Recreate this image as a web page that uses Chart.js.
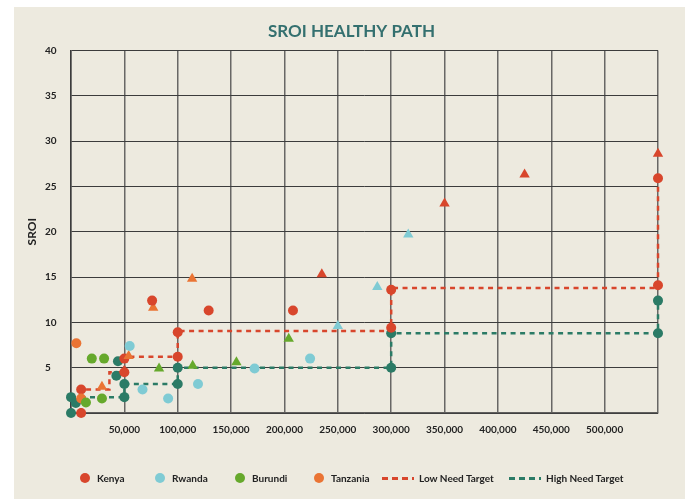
<!DOCTYPE html>
<html>
<head>
<meta charset="utf-8">
<script src="https://cdn.jsdelivr.net/npm/chart.js@4.4.1/dist/chart.umd.min.js"></script>
<style>
  html, body { margin: 0; padding: 0; background: #fff; }
  #panel { position: absolute; left: 14px; top: 7px; width: 671px; height: 492px; background: #edeadf; }
  #wrap { position: absolute; left: 0; top: 0; width: 685px; height: 499px; }
  #legend { position: absolute; left: 0; top: 471px; width: 685px; height: 14px; font: bold 10px Lato, sans-serif; color: #222; }
  .item { position: absolute; top: 0; display: flex; align-items: center; height: 14px; white-space: nowrap; }
  .dot { width: 10px; height: 10px; border-radius: 50%; margin-right: 7px; }
  .dash { width: 32px; height: 3px; margin-right: 5px; }
</style>
</head>
<body>
<div id="panel"></div>
<div id="wrap"><canvas id="sroi" width="685" height="499"></canvas></div>
<div id="legend"></div>
<script>
// tick labels
const xTicks = [50000, 100000, 150000, 200000, 250000, 300000, 350000, 400000, 450000, 500000];
const yTicks = [5, 10, 15, 20, 25, 30, 35, 40];

// country results (circles and triangles)
const kenyaCircles = [{x: 76000, y: 12.4}, {x: 129000, y: 11.3}, {x: 208000, y: 11.3}];
const kenyaTriangles = [{x: 235000, y: 15.3}, {x: 350000, y: 23.1}, {x: 425000, y: 26.3}, {x: 550000, y: 28.6}];
const rwandaCircles = [{x: 55000, y: 7.4}, {x: 67000, y: 2.6}, {x: 91000, y: 1.6}, {x: 119000, y: 3.2}, {x: 172000, y: 4.9}, {x: 224000, y: 6.0}];
const rwandaTriangles = [{x: 250000, y: 9.6}, {x: 287000, y: 13.9}, {x: 316000, y: 19.7}];
const burundiCircles = [{x: 19500, y: 6.0}, {x: 31000, y: 6.0}, {x: 14000, y: 1.15}, {x: 29000, y: 1.6}];
const burundiTriangles = [{x: 82500, y: 4.9}, {x: 114000, y: 5.2}, {x: 155000, y: 5.6}, {x: 204000, y: 8.2}];
const tanzaniaCircles = [{x: 5000, y: 7.7}, {x: 9500, y: 1.6}];
const tanzaniaTriangles = [{x: 29000, y: 2.9}, {x: 54000, y: 6.3}, {x: 77000, y: 11.6}, {x: 113500, y: 14.8}];

// targets
const lowNeedPath = [{x: 9500, y: 0}, {x: 9500, y: 2.6}, {x: 36000, y: 2.6}, {x: 36000, y: 4.5}, {x: 50000, y: 4.5},
  {x: 50000, y: 6.2}, {x: 100000, y: 6.2}, {x: 100000, y: 9.05}, {x: 300000, y: 9.05}, {x: 300000, y: 13.8},
  {x: 550000, y: 13.8}, {x: 550000, y: 25.9}];
const lowNeedDots = [{x: 9500, y: 0}, {x: 9500, y: 2.6}, {x: 50000, y: 4.5}, {x: 50000, y: 6.0}, {x: 100000, y: 6.2},
  {x: 100000, y: 8.9}, {x: 300000, y: 9.4}, {x: 300000, y: 13.6}, {x: 550000, y: 14.1}, {x: 550000, y: 25.9}];
const highNeedPath = [{x: 0, y: 1.75}, {x: 50000, y: 1.75}, {x: 50000, y: 3.2}, {x: 100000, y: 3.2}, {x: 100000, y: 5.0},
  {x: 300000, y: 5.0}, {x: 300000, y: 8.8}, {x: 550000, y: 8.8}, {x: 550000, y: 12.4}];
const highNeedDots = [{x: 0, y: 0}, {x: 0, y: 1.75}, {x: 4500, y: 1.1}, {x: 42500, y: 4.1}, {x: 44000, y: 5.7},
  {x: 50000, y: 1.75}, {x: 50000, y: 3.2}, {x: 100000, y: 3.2}, {x: 100000, y: 5.0}, {x: 300000, y: 5.0},
  {x: 300000, y: 8.8}, {x: 550000, y: 8.8}, {x: 550000, y: 12.4}];

const RED = '#d8462c', CYAN = '#7fcbd4', GREEN = '#66a92c', ORANGE = '#ea7434', TEAL = '#2b7b66';
const FONT = 'Lato, sans-serif';

function marks(label, data, color, style, order) {
  return {
    label: label, data: data, backgroundColor: color, borderColor: color,
    pointStyle: style, pointRadius: style === 'triangle' ? 6 : 5, pointBorderWidth: 0,
    pointHoverRadius: 5, clip: false, order: order
  };
}
function path(label, data, color, order) {
  return {
    label: label, data: data, showLine: true, borderColor: color, borderWidth: 2.5,
    borderDash: [5, 4.5], pointRadius: 0, clip: false, order: order
  };
}

new Chart(document.getElementById('sroi'), {
  type: 'scatter',
  data: {
    datasets: [
      marks('Kenya', kenyaCircles, RED, 'circle', 0),
      marks('Rwanda', rwandaCircles, CYAN, 'circle', 0),
      marks('Burundi', burundiCircles, GREEN, 'circle', 0),
      marks('Tanzania', tanzaniaCircles, ORANGE, 'circle', 0),
      marks('Kenya', kenyaTriangles, RED, 'triangle', 0),
      marks('Rwanda', rwandaTriangles, CYAN, 'triangle', 0),
      marks('Burundi', burundiTriangles, GREEN, 'triangle', 0),
      marks('Tanzania', tanzaniaTriangles, ORANGE, 'triangle', 0),
      marks('Low Need Target', lowNeedDots, RED, 'circle', 1),
      marks('High Need Target', highNeedDots, TEAL, 'circle', 2),
      path('Low Need Target', lowNeedPath, RED, 3),
      path('High Need Target', highNeedPath, TEAL, 4)
    ]
  },
  options: {
    responsive: false,
    animation: false,
    layout: { padding: { left: 45, right: 27, top: 0, bottom: 56 } },
    plugins: {
      legend: { display: false },
      tooltip: { enabled: false },
      title: {
        display: true,
        text: 'SROI HEALTHY PATH',
        color: '#34706f',
        font: { family: FONT, size: 17, weight: 'bold' },
        padding: { top: 21, bottom: 9 }
      }
    },
    scales: {
      x: {
        type: 'linear', min: 0, max: 550000,
        afterFit: (scale) => { scale.height = 30; },
        ticks: {
          stepSize: 50000, padding: 11, color: '#222', maxRotation: 0, autoSkip: false,
          font: { family: FONT, size: 10, weight: 'bold' },
          callback: (v) => xTicks.includes(v) ? v.toLocaleString('en-US') : ''
        },
        grid: { color: 'rgba(70,70,70,0.8)', lineWidth: 1.5, drawTicks: false },
        border: { color: 'rgba(70,70,70,0.85)', width: 1.5 }
      },
      y: {
        min: 0, max: 40,
        afterFit: (scale) => { scale.width = 26; },
        title: {
          display: true, text: 'SROI', color: '#222',
          font: { family: FONT, size: 12, weight: 'bold' },
          padding: { top: -20, bottom: 0 }
        },
        ticks: {
          stepSize: 5, crossAlign: 'far', color: '#222',
          font: { family: FONT, size: 10, weight: 'bold' },
          callback: (v) => yTicks.includes(v) ? String(v) : ''
        },
        grid: { color: '#3c3c3c', lineWidth: 1, drawTicks: false },
        border: { color: '#3c3c3c', width: 1.5 }
      }
    }
  }
});

// legend
const legendItems = [
  { text: 'Kenya', color: RED, kind: 'dot', left: 80 },
  { text: 'Rwanda', color: CYAN, kind: 'dot', left: 155 },
  { text: 'Burundi', color: GREEN, kind: 'dot', left: 235 },
  { text: 'Tanzania', color: ORANGE, kind: 'dot', left: 314 },
  { text: 'Low Need Target', color: RED, kind: 'dash', left: 382 },
  { text: 'High Need Target', color: TEAL, kind: 'dash', left: 509 }
];
const legend = document.getElementById('legend');
legendItems.forEach((it) => {
  const el = document.createElement('div');
  el.className = 'item';
  el.style.left = it.left + 'px';
  const mark = document.createElement('span');
  mark.className = it.kind;
  if (it.kind === 'dot') {
    mark.style.background = it.color;
  } else {
    mark.style.background = 'repeating-linear-gradient(to right, ' + it.color + ' 0 6px, transparent 6px 10px)';
  }
  el.appendChild(mark);
  el.appendChild(document.createTextNode(it.text));
  legend.appendChild(el);
});
</script>
</body>
</html>
